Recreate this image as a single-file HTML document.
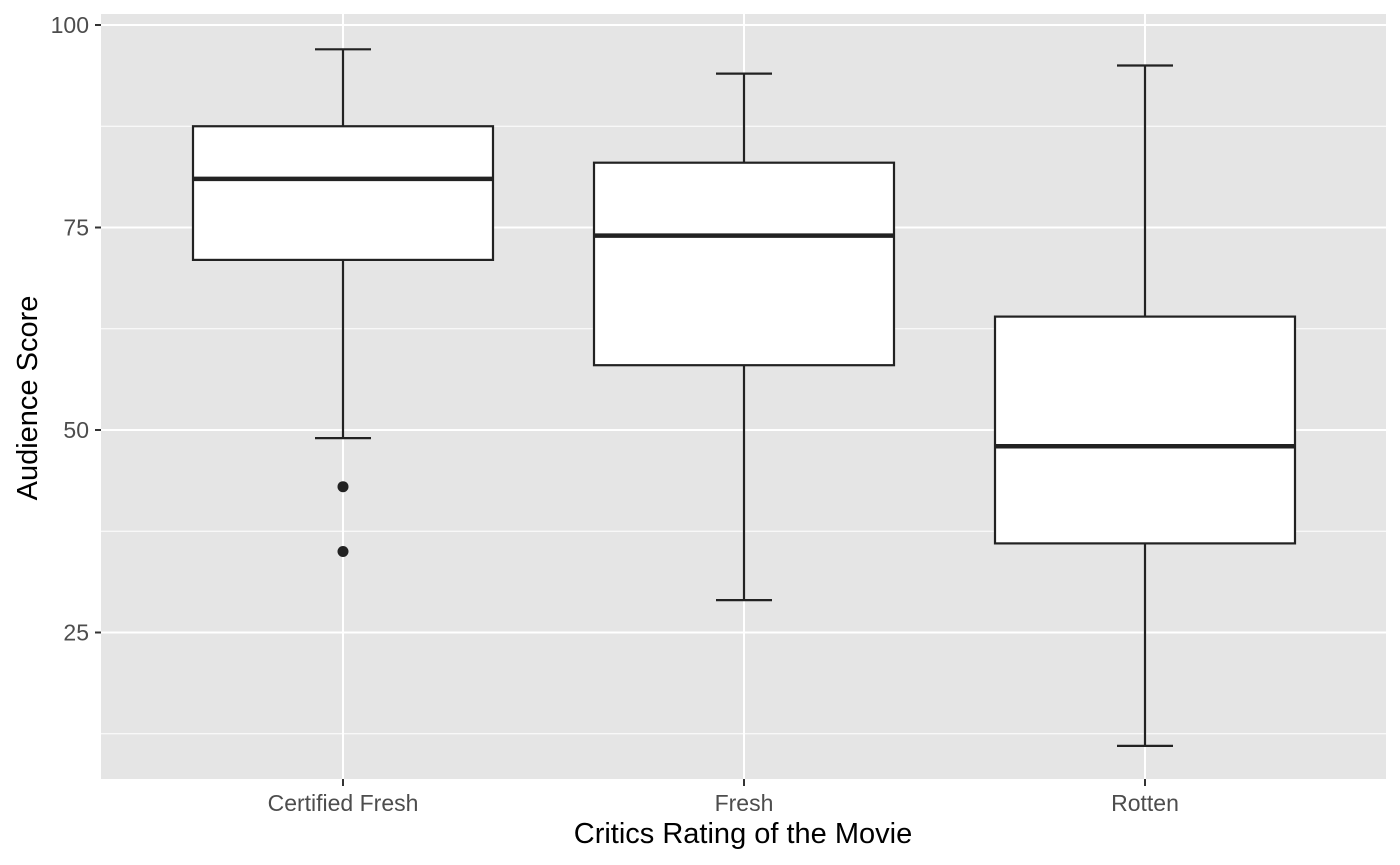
<!DOCTYPE html>
<html><head><meta charset="utf-8"><style>
body{margin:0;background:#fff;}
svg{display:block;font-family:"Liberation Sans",Arial,sans-serif;}
</style></head><body>
<svg id="chart" width="1400" height="865">
<rect x="101" y="14" width="1285" height="765" fill="#e5e5e5"/>
<g id="grid"></g><g id="boxes"></g><g id="axes"></g>
<text x="743" y="843" text-anchor="middle" font-size="29" fill="#000">Critics Rating of the Movie</text>
<text transform="translate(37,398) rotate(-90)" text-anchor="middle" font-size="29" fill="#000">Audience Score</text>
</svg>
<script>
const categories=["Certified Fresh","Fresh","Rotten"];
const whiskerLow=[49,29,11];
const q1=[71,58,36];
const medians=[81,74,48];
const q3=[87.5,83,64];
const whiskerHigh=[97,94,95];
const outliers=[[43,35],[],[]];
const yTicks=[25,50,75,100];
const yMinor=[12.5,37.5,62.5,87.5];
const NS="http://www.w3.org/2000/svg";
function y(v){return 25+(100-v)*8.1;}
function x(i){return 343+i*401;}
const boxW=300;
function mk(parent,tag,attrs){const e=document.createElementNS(NS,tag);for(const k in attrs)e.setAttribute(k,attrs[k]);document.getElementById(parent).appendChild(e);return e;}
yMinor.forEach(v=>{const e=mk('grid','line',{x1:101,x2:1386,y1:y(v),y2:y(v),stroke:'#fff','stroke-width':1});

});
yTicks.forEach(v=>{const e=mk('grid','line',{x1:101,x2:1386,y1:y(v),y2:y(v),stroke:'#fff','stroke-width':2});


const t=mk('axes','line',{x1:95,x2:101,y1:y(v),y2:y(v),stroke:'#333','stroke-width':2});


const l=mk('axes','text',{x:89,y:y(v)+8,'text-anchor':'end','font-size':23,fill:'#4d4d4d'});l.textContent=v;

});
categories.forEach((c,i)=>{const cx=x(i);
const g=mk('grid','line',{x1:cx,x2:cx,y1:14,y2:779,stroke:'#fff','stroke-width':2});


const t=mk('axes','line',{x1:cx,x2:cx,y1:779,y2:786,stroke:'#333','stroke-width':2});


const l=mk('axes','text',{x:cx,y:811,'text-anchor':'middle','font-size':23,fill:'#4d4d4d'});l.textContent=c;


const w1=mk('boxes','line',{x1:cx,x2:cx,y1:y(whiskerHigh[i]),y2:y(q3[i]),stroke:'#222','stroke-width':2.2});


const w2=mk('boxes','line',{x1:cx,x2:cx,y1:y(q1[i]),y2:y(whiskerLow[i]),stroke:'#222','stroke-width':2.2});


[whiskerHigh[i],whiskerLow[i]].forEach(v=>{const c2=mk('boxes','line',{x1:cx-28,x2:cx+28,y1:y(v),y2:y(v),stroke:'#222','stroke-width':2.2});

});
const b=mk('boxes','rect',{x:cx-boxW/2,y:y(q3[i]),width:boxW,height:y(q1[i])-y(q3[i]),fill:'#fff',stroke:'#222','stroke-width':2.2});


const m=mk('boxes','line',{x1:cx-boxW/2,x2:cx+boxW/2,y1:y(medians[i]),y2:y(medians[i]),stroke:'#222','stroke-width':4.5});


outliers[i].forEach(v=>{const o=mk('boxes','circle',{cx:cx,cy:y(v),r:5.5,fill:'#222'});

});
});
</script>
</body></html>
